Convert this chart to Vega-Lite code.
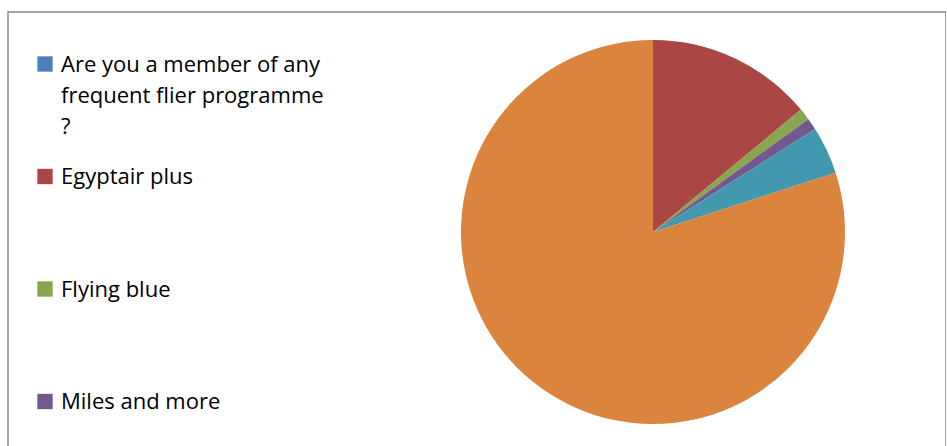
{
  "$schema": "https://vega.github.io/schema/vega-lite/v6.json",
  "autosize": "none",
  "width": 938,
  "height": 445,
  "padding": {"left": 8, "top": 12, "right": 0, "bottom": 0},
  "background": "white",
  "view": {"stroke": "#878787", "strokeWidth": 1.5, "fill": "white"},
  "data": {
    "values": [
      {"category": "Are you a member of any frequent flier programme ?", "count": 0, "order": 1},
      {"category": "Egyptair plus", "count": 14, "order": 2},
      {"category": "Flying blue", "count": 1, "order": 3},
      {"category": "Miles and more", "count": 1, "order": 4},
      {"category": "Other", "count": 4, "order": 5},
      {"category": "None", "count": 80, "order": 6}
    ]
  },
  "mark": {"type": "arc", "radius": 192, "x": 645, "y": 220},
  "encoding": {
    "theta": {"field": "count", "type": "quantitative", "stack": true},
    "order": {"field": "order", "type": "quantitative"},
    "color": {
      "field": "category",
      "type": "nominal",
      "scale": {
        "domain": ["Are you a member of any frequent flier programme ?", "Egyptair plus", "Flying blue", "Miles and more", "Other", "None"],
        "range": ["#4A7EBB", "#AA4643", "#89A54E", "#71588F", "#4198AF", "#DB843D"]
      },
      "legend": {
        "title": null,
        "orient": "none",
        "legendX": 26,
        "legendY": 41,
        "padding": 0,
        "values": ["Are you a member of any frequent flier programme ?", "Egyptair plus", "Flying blue", "Miles and more"],
        "symbolType": "square",
        "symbolSize": 235,
        "symbolStrokeWidth": 0,
        "labelOffset": 5,
        "labelFont": "Open Sans",
        "labelFontSize": 22,
        "labelColor": "#000000",
        "labelLimit": 500,
        "labelBaseline": "alphabetic",
        "gridAlign": "all",
        "rowPadding": 27.5,
        "labelExpr": "datum.label == 'Are you a member of any frequent flier programme ?' ? ['Are you a member of any', 'frequent flier programme', '?'] : datum.label",
        "encode": {
          "labels": {"update": {"dy": {"value": 7.5}, "lineHeight": {"value": 31}}}
        }
      }
    }
  }
}
